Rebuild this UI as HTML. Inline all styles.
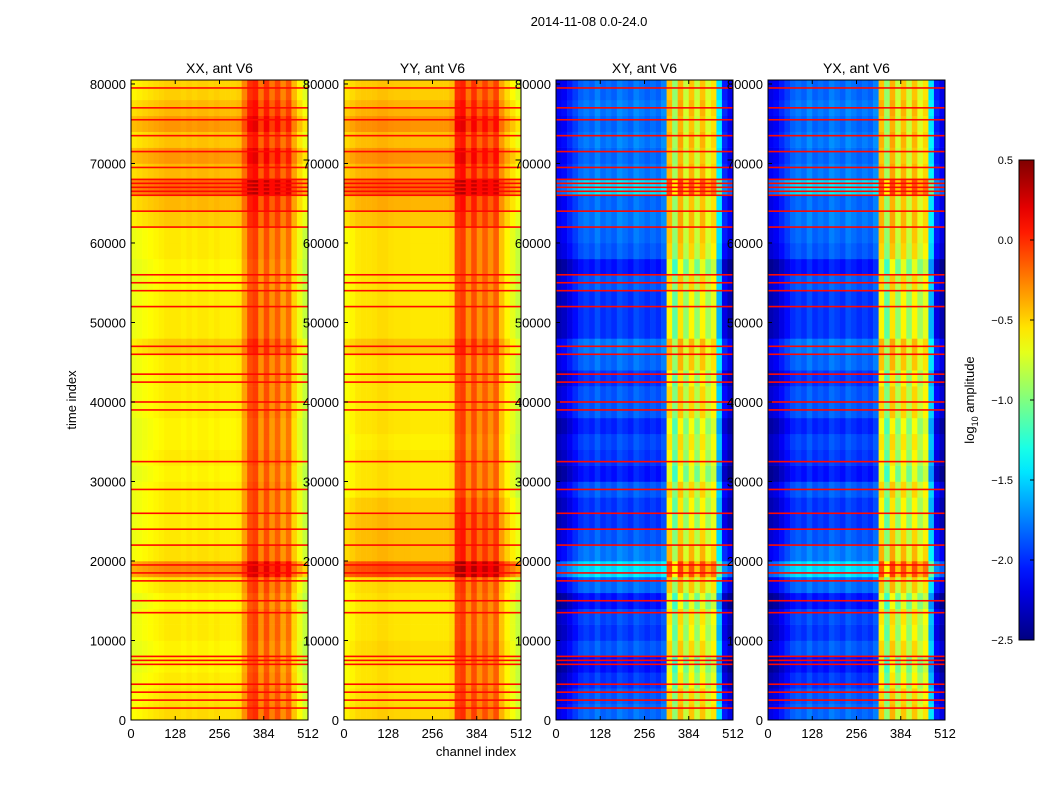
<!DOCTYPE html>
<html><head><meta charset="utf-8"><style>
body{margin:0;background:#fff;font-family:"Liberation Sans",sans-serif}
svg text{font-family:"Liberation Sans",sans-serif}
</style></head><body>
<svg id="chart" width="1050" height="800" xmlns="http://www.w3.org/2000/svg">
<rect width="1050" height="800" fill="#fff"/>
<text x="589" y="26" font-size="13" text-anchor="middle">2014-11-08 0.0-24.0</text>
<text x="476" y="756" font-size="13" text-anchor="middle">channel index</text>
<text x="76" y="400" font-size="13" text-anchor="middle" transform="rotate(-90 76 400)">time index</text>
<g id="panels"></g>
<g id="cbar"></g>
</svg>
<script>
const panelTitles=["XX, ant V6","YY, ant V6","XY, ant V6","YX, ant V6"];
const xTicks=[0,128,256,384,512];
const yTicks=[0,10000,20000,30000,40000,50000,60000,70000,80000];
const cbTicks=[0.5,0.0,-0.5,-1.0,-1.5,-2.0,-2.5];
const colXX=[-0.68,-0.66,-0.64,-0.62,-0.6,-0.58,-0.56,-0.56,-0.56,-0.58,-0.56,-0.58,-0.56,-0.56,-0.58,-0.56,-0.58,-0.58,-0.58,-0.56,-0.35,-0.1,-0.05,-0.3,-0.1,-0.3,-0.15,-0.35,-0.2,-0.5,-0.68,-0.8];
const colYY=[-0.64,-0.6,-0.56,-0.55,-0.55,-0.54,-0.52,-0.52,-0.54,-0.55,-0.55,-0.55,-0.56,-0.56,-0.56,-0.56,-0.56,-0.56,-0.56,-0.52,-0.1,-0.05,-0.3,-0.1,-0.3,-0.15,-0.3,-0.15,-0.45,-0.6,-0.7,-0.8];
const colXY=[-2.35,-2.3,-2.2,-2.1,-2.0,-1.95,-2.0,-1.9,-2.0,-1.95,-2.0,-1.9,-1.95,-2.0,-1.9,-1.95,-2.0,-1.95,-2.0,-1.9,-0.6,-1.1,-0.55,-0.95,-0.6,-0.95,-0.6,-0.9,-0.7,-1.6,-2.2,-2.35];
const colYX=[-2.35,-2.3,-2.2,-2.1,-2.0,-1.95,-2.0,-1.9,-2.0,-1.95,-2.0,-1.9,-1.95,-2.0,-1.9,-1.95,-2.0,-1.95,-2.0,-1.9,-0.6,-1.1,-0.55,-0.95,-0.6,-0.95,-0.6,-0.9,-0.7,-1.6,-2.2,-2.35];
const rowXX=[0.05,0.03,0,-0.03,-0.03,0,0,-0.03,0.03,0.3,0.03,0,0,0,0,-0.03,0,-0.03,-0.03,0,0,0,0,0.1,0,0,0,-0.03,-0.03,0,0,0.1,0.15,0.4,0.15,0.25,0.12,0.25,0.15,0.08];
const rowYY=[0.05,0.03,0,0,0.03,0,0,0,0.03,0.45,0.12,0.12,0.12,0.08,0,0,0,-0.03,0,0,0,0,0,0.1,0,0,0,0,0,0,0,0.1,0.15,0.4,0.15,0.25,0.12,0.25,0.15,0.08];
const rowXY=[0.15,0.1,0,-0.1,0.1,0,0.05,-0.1,0.15,0.5,0.2,0.1,0,0,0.1,-0.1,0,0.05,-0.05,0.1,0.1,0,0.15,0.2,0,0,0,0.1,-0.1,0.1,0.15,0.2,0.15,0.5,0.2,0.15,0.2,0.15,0.2,0.15];
const rowYX=[0.15,0.1,0,-0.1,0.1,0,0.05,-0.1,0.15,0.5,0.2,0.1,0,0,0.1,-0.1,0,0.05,-0.05,0.1,0.1,0,0.15,0.2,0,0,0,0.1,-0.1,0.1,0.15,0.2,0.15,0.5,0.2,0.15,0.2,0.15,0.2,0.15];
const rfiTimes=[1500,2500,3500,4500,7000,7500,8000,13500,15000,17500,18500,19500,22000,24000,26000,29000,32500,39000,40000,42500,43500,46000,47000,52000,54000,55000,56000,62000,64000,66000,66500,67000,67500,68000,69500,71500,73500,75500,77000,79500];
const cols=[colXX,colYY,colXY,colYX];
const rows=[rowXX,rowYY,rowXY,rowYX];
const panelX=[131,344,556,768], PW=177, PT=80, PB=720, TMAX=80500;
const NS="http://www.w3.org/2000/svg";
function jet(v){let t=(v+2.5)/3;t=Math.max(0,Math.min(1,t));
 const c=x=>Math.round(255*Math.max(0,Math.min(1,x)));
 return `rgb(${c(1.5-Math.abs(4*t-3))},${c(1.5-Math.abs(4*t-2))},${c(1.5-Math.abs(4*t-1))})`;}
function mk(tag,attrs,parent){const e=document.createElementNS(NS,tag);for(const k in attrs)e.setAttribute(k,attrs[k]);parent.appendChild(e);return e;}
const root=document.getElementById('panels');
for(let p=0;p<4;p++){
 const x0=panelX[p];
 const xs=ch=>x0+ch/512*PW;
 const ys=t=>PB-t/TMAX*(PB-PT);
 const g=mk('g',{},root);
 
 
 const cp=cols[p],rp=rows[p];
 for(let r=0;r<rp.length;r++){for(let c=0;c<cp.length;c++){
  const t0=r*2000,t1=Math.min((r+1)*2000,TMAX);
  const yTop=ys(r==rp.length-1?TMAX:t1);
  const e=mk('rect',{x:xs(c*16),y:yTop,width:xs((c+1)*16)-xs(c*16)+0.3,height:ys(t0)-yTop+0.3,fill:jet(cp[c]+rp[r])},g);
  
  
 }}
 for(const t of rfiTimes){
  const e=mk('rect',{x:x0,y:ys(t)-0.8,width:PW,height:1.6,fill:jet(0.1)},g);
  
  
 }
 const fr=mk('rect',{x:x0,y:PT,width:PW,height:PB-PT,fill:'none',stroke:'#000','stroke-width':1},g);
 
 
 const tt=mk('text',{x:x0+PW/2,y:73,'font-size':14,'text-anchor':'middle'},g);tt.textContent=panelTitles[p];
 
 
 for(const v of xTicks){
  mk('line',{x1:xs(v),x2:xs(v),y1:PB,y2:PB-4,stroke:'#000'},g);
  mk('line',{x1:xs(v),x2:xs(v),y1:PT,y2:PT+4,stroke:'#000'},g);
  const l=mk('text',{x:xs(v),y:PB+18,'font-size':13,'text-anchor':'middle'},g);l.textContent=v;
  
  
 }
 for(const v of yTicks){
  mk('line',{x1:x0,x2:x0+4,y1:ys(v),y2:ys(v),stroke:'#000'},g);
  const l=mk('text',{x:x0-5,y:ys(v)+5,'font-size':13,'text-anchor':'end'},g);l.textContent=v;
  
  
 }
}
const cb=document.getElementById('cbar');
const defs=mk('defs',{},cb);
const grad=mk('linearGradient',{id:'jetg',x1:0,y1:1,x2:0,y2:0},defs);
for(let i=0;i<=20;i++){mk('stop',{offset:i/20,'stop-color':jet(-2.5+3*i/20)},grad);}
const cbr=mk('rect',{x:1019,y:160,width:15,height:480,fill:'url(#jetg)',stroke:'#000'},cb);


for(const v of cbTicks){const y=160+(0.5-v)*160;
 mk('line',{x1:1030,x2:1034,y1:y,y2:y,stroke:'#000'},cb);
 const l=mk('text',{x:1013,y:y+4,'font-size':11,'text-anchor':'end'},cb);
 l.textContent=(v<0?'\u2212':'')+Math.abs(v).toFixed(1);
 
 
}
const cl=mk('text',{x:974,y:400,'font-size':13,'text-anchor':'middle',transform:'rotate(-90 974 400)'},cb);
cl.innerHTML='log<tspan font-size="9" dy="4">10</tspan><tspan dy="-4"> amplitude</tspan>';


</script>
</body></html>
